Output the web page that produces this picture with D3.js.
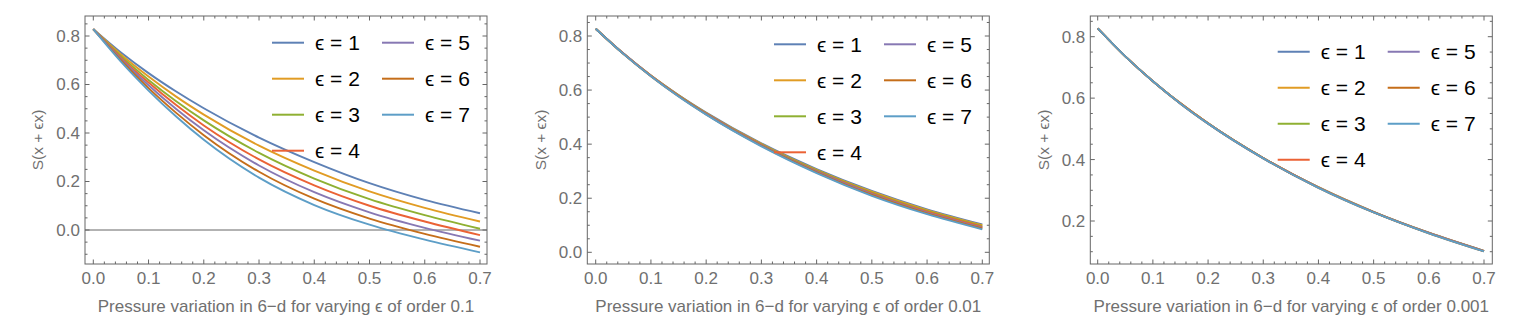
<!DOCTYPE html>
<html>
<head>
<meta charset="utf-8">
<script src="https://cdn.jsdelivr.net/npm/d3@7"></script>
<style>
  body { margin: 0; background: #fff; }
  text { font-family: "Liberation Sans", Arial, sans-serif; }
</style>
</head>
<body>
<svg id="chart" width="1523" height="332"></svg>
<script>
// x samples
var xs = [0, 0.05, 0.1, 0.15, 0.2, 0.3, 0.4, 0.5, 0.6, 0.7];

var legendNames = ["\u03F5 = 1", "\u03F5 = 2", "\u03F5 = 3", "\u03F5 = 4", "\u03F5 = 5", "\u03F5 = 6", "\u03F5 = 7"];
var colors = ["#5E81B5", "#E19C24", "#8FB032", "#EB6235", "#8778B3", "#C56E1A", "#5D9EC7"];

var xTicks = [0, 0.1, 0.2, 0.3, 0.4, 0.5, 0.6, 0.7];
var xTitles = ["Pressure variation in 6\u2212d for varying \u03F5 of order 0.1",
               "Pressure variation in 6\u2212d for varying \u03F5 of order 0.01",
               "Pressure variation in 6\u2212d for varying \u03F5 of order 0.001"];
var yTitle = "S(x + \u03F5x)";

// epsilon of order 0.1
var order1 = [
  [0.828, 0.732, 0.647, 0.571, 0.502, 0.381, 0.280, 0.193, 0.124, 0.069],
  [0.828, 0.724, 0.633, 0.550, 0.476, 0.348, 0.245, 0.159, 0.091, 0.035],
  [0.828, 0.717, 0.619, 0.531, 0.452, 0.318, 0.212, 0.127, 0.061, 0.005],
  [0.828, 0.711, 0.608, 0.515, 0.431, 0.291, 0.184, 0.100, 0.035, -0.021],
  [0.828, 0.705, 0.597, 0.499, 0.411, 0.266, 0.156, 0.073, 0.009, -0.044],
  [0.828, 0.700, 0.585, 0.483, 0.391, 0.240, 0.129, 0.047, -0.016, -0.069],
  [0.828, 0.694, 0.575, 0.468, 0.372, 0.216, 0.103, 0.022, -0.040, -0.092]
];
// epsilon of order 0.01
var order01 = [
  [0.827, 0.736, 0.654, 0.582, 0.517, 0.403, 0.308, 0.227, 0.159, 0.103],
  [0.827, 0.735, 0.654, 0.581, 0.515, 0.401, 0.305, 0.224, 0.156, 0.100],
  [0.827, 0.735, 0.653, 0.580, 0.514, 0.399, 0.303, 0.221, 0.153, 0.097],
  [0.827, 0.735, 0.653, 0.579, 0.513, 0.397, 0.300, 0.218, 0.150, 0.094],
  [0.827, 0.735, 0.652, 0.578, 0.512, 0.396, 0.298, 0.215, 0.147, 0.091],
  [0.827, 0.734, 0.651, 0.577, 0.510, 0.394, 0.296, 0.212, 0.144, 0.088],
  [0.827, 0.734, 0.651, 0.576, 0.509, 0.392, 0.293, 0.209, 0.141, 0.085]
];
// epsilon of order 0.001
var order001 = [
  [0.827, 0.736, 0.655, 0.583, 0.518, 0.405, 0.310, 0.230, 0.162, 0.103],
  [0.827, 0.736, 0.655, 0.583, 0.518, 0.405, 0.310, 0.230, 0.162, 0.103],
  [0.827, 0.736, 0.655, 0.583, 0.518, 0.405, 0.309, 0.229, 0.161, 0.102],
  [0.827, 0.736, 0.655, 0.583, 0.518, 0.405, 0.309, 0.229, 0.161, 0.102],
  [0.827, 0.736, 0.655, 0.582, 0.517, 0.404, 0.309, 0.229, 0.161, 0.102],
  [0.827, 0.736, 0.655, 0.582, 0.517, 0.404, 0.308, 0.228, 0.160, 0.101],
  [0.827, 0.736, 0.655, 0.582, 0.517, 0.404, 0.308, 0.228, 0.160, 0.101]
];

var yTicks1 = [0, 0.2, 0.4, 0.6, 0.8];
var yTicks3 = [0.2, 0.4, 0.6, 0.8];

var svg = d3.select("#chart");
var frameColor = "#666";
var tickText = "#707070";

// layout of each panel (pixels)
var panels = [
  {data: order1,   title: xTitles[0], yTicks: yTicks1, zeroLine: true,
   l: 85,     r: 487,    t: 16, b: 264, x0: 93.3,   x7: 480,  yd: [0, 0.8],   yr: [230, 36],    legX: 272,    legY: 42.7},
  {data: order01,  title: xTitles[1], yTicks: yTicks1, zeroLine: false,
   l: 587.3,  r: 989.3,  t: 16, b: 264, x0: 595.7,  x7: 982.3, yd: [0, 0.8],  yr: [252.3, 36],  legX: 774,    legY: 44.3},
  {data: order001, title: xTitles[2], yTicks: yTicks3, zeroLine: false,
   l: 1090.3, r: 1492.3, t: 16, b: 264, x0: 1097.7, x7: 1484, yd: [0.2, 0.8],  yr: [221, 36.7],  legX: 1277.7, legY: 51.7}
];

panels.forEach(function(p) {
  var g = svg.append("g");
  var x = d3.scaleLinear().domain([0, 0.7]).range([p.x0, p.x7]);
  var y = d3.scaleLinear().domain(p.yd).range(p.yr);

  // minor ticks
  var xMinor = d3.range(0, 0.7001, 0.02).filter(function(v) {
    return Math.abs(v*10 - Math.round(v*10)) > 1e-6;
  });
  var yMinor = d3.range(-0.2, 1.0001, 0.05).filter(function(v) {
    var py = y(v);
    return py > p.t + 0.5 && py < p.b - 0.5 && Math.abs(v*5 - Math.round(v*5)) > 1e-6;
  });

  function tickX(v, len) {
    var px = x(v);
    g.append("line").attr("x1", px).attr("x2", px).attr("y1", p.b).attr("y2", p.b - len)
      .style("stroke", frameColor).style("stroke-width", 1);
    g.append("line").attr("x1", px).attr("x2", px).attr("y1", p.t).attr("y2", p.t + len)
      .style("stroke", frameColor).style("stroke-width", 1);
  }
  function tickY(v, len) {
    var py = y(v);
    g.append("line").attr("x1", p.l).attr("x2", p.l + len).attr("y1", py).attr("y2", py)
      .style("stroke", frameColor).style("stroke-width", 1);
    g.append("line").attr("x1", p.r).attr("x2", p.r - len).attr("y1", py).attr("y2", py)
      .style("stroke", frameColor).style("stroke-width", 1);
  }
  xMinor.forEach(function(v) { tickX(v, 2.5); });
  xTicks.forEach(function(v) { tickX(v, 4.5); });
  yMinor.forEach(function(v) { tickY(v, 2.5); });
  p.yTicks.forEach(function(v) { tickY(v, 4.5); });

  // tick labels
  xTicks.forEach(function(v) {
    g.append("text").attr("x", x(v)).attr("y", 283.5).text(d3.format(".1f")(v))
      .style("font-size", "17px").style("fill", tickText).style("text-anchor", "middle");
  });
  p.yTicks.forEach(function(v) {
    g.append("text").attr("x", p.l - 5).attr("y", y(v)).attr("dy", "0.35em").text(d3.format(".1f")(v))
      .style("font-size", "17px").style("fill", tickText).style("text-anchor", "end");
  });

  // axis at zero
  if (p.zeroLine) {
    g.append("line").attr("x1", p.l).attr("x2", p.r).attr("y1", y(0)).attr("y2", y(0))
      .style("stroke", frameColor).style("stroke-width", 1);
  }

  // curves
  var clipId = "clip" + Math.round(p.l);
  svg.append("clipPath").attr("id", clipId).append("rect")
    .attr("x", p.l).attr("y", p.t).attr("width", p.r - p.l).attr("height", p.b - p.t);
  var line = d3.line().x(function(d, i) { return x(xs[i]); }).y(function(d) { return y(d); })
    .curve(d3.curveMonotoneX);
  p.data.forEach(function(series, k) {
    g.append("path").attr("d", line(series)).attr("clip-path", "url(#" + clipId + ")")
      .style("fill", "none").style("stroke", colors[k]).style("stroke-width", 1.9);
  });

  // frame
  g.append("rect").attr("x", p.l).attr("y", p.t).attr("width", p.r - p.l).attr("height", p.b - p.t)
    .style("fill", "none").style("stroke", frameColor).style("stroke-width", 1);

  // axis titles
  g.append("text").attr("x", (p.l + p.r)/2).attr("y", 311.5).text(p.title)
    .style("font-size", "17px").style("fill", tickText).style("text-anchor", "middle");
  g.append("text").attr("transform", "translate(" + (p.l - 47) + "," + ((p.t + p.b)/2) + ") rotate(-90)")
    .attr("dy", "0.35em").text(yTitle)
    .style("font-size", "15.5px").style("fill", tickText).style("text-anchor", "middle");

  // legend
  legendNames.forEach(function(name, k) {
    var col = k < 4 ? 0 : 1;
    var row = k < 4 ? k : k - 4;
    var lx = p.legX + col*110;
    var ly = p.legY + row*36;
    g.append("line").attr("x1", lx).attr("x2", lx + 32).attr("y1", ly).attr("y2", ly)
      .style("stroke", colors[k]).style("stroke-width", 2);
    g.append("text").attr("x", lx + 43).attr("y", ly).attr("dy", "0.36em").text(name)
      .style("font-size", "21px").style("fill", "#000");
  });
});
</script>
</body>
</html>
